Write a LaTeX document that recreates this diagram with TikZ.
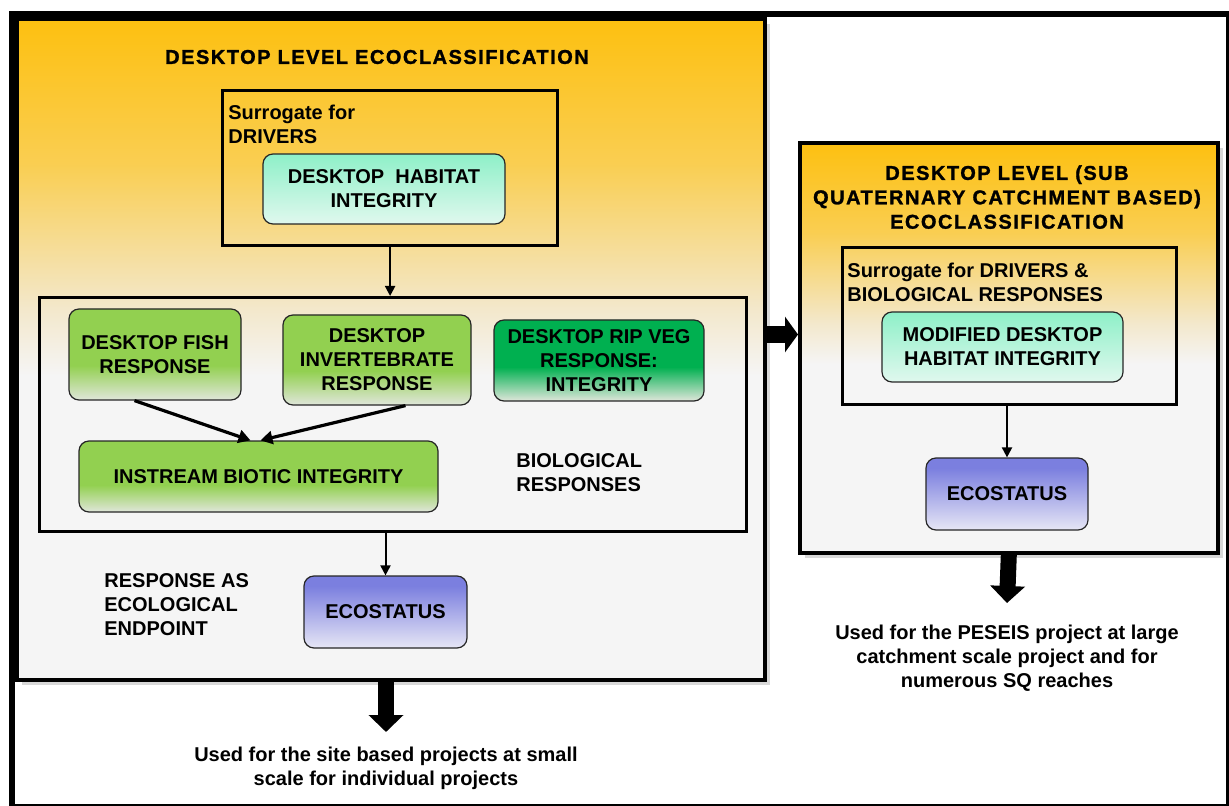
\documentclass[tikz,border=0pt]{standalone}
\usepackage{fontspec}
\setmainfont{Liberation Sans}
\newfontfamily\headfont{Liberation Sans}[FakeBold=1.4, LetterSpace=7.5]
\usepackage{tikz}
\usetikzlibrary{arrows.meta, positioning, shadows}

\definecolor{panelorange}{RGB}{253,192,16}
\definecolor{panelcream}{RGB}{243,232,204}
\definecolor{panelgrey}{RGB}{245,245,245}
\definecolor{leafgreen}{RGB}{146,208,80}
\definecolor{ripgreen}{RGB}{0,176,80}
\definecolor{fadegreen}{RGB}{224,230,218}
\definecolor{mint}{RGB}{142,240,200}
\definecolor{mintpale}{RGB}{224,248,238}
\definecolor{lilac}{RGB}{123,127,223}
\definecolor{lilacpale}{RGB}{230,230,245}

\pgfdeclareverticalshading{panelshade}{100bp}{color(0bp)=(panelgrey); color(48bp)=(panelgrey); color(53bp)=(panelcream); color(64bp)=(panelorange!65!panelcream); color(75bp)=(panelorange); color(100bp)=(panelorange)}
\pgfdeclareverticalshading{leafshade}{100bp}{color(0bp)=(fadegreen); color(25bp)=(fadegreen); color(44bp)=(leafgreen); color(100bp)=(leafgreen)}
\pgfdeclareverticalshading{ripshade}{100bp}{color(0bp)=(fadegreen); color(25bp)=(fadegreen); color(46bp)=(ripgreen); color(100bp)=(ripgreen)}
\pgfdeclareverticalshading{mintshade}{100bp}{color(0bp)=(mintpale); color(25bp)=(mintpale); color(75bp)=(mint); color(100bp)=(mint)}
\pgfdeclareverticalshading{lilacshade}{100bp}{color(0bp)=(lilacpale); color(25bp)=(lilacpale); color(68bp)=(lilac); color(100bp)=(lilac)}

\tikzstyle{outerframe} = [rectangle, draw=black, line width=3pt, anchor=north west, inner sep=0pt]
\tikzstyle{panel} = [rectangle, draw=black, line width=1.8pt, shading=panelshade, anchor=north west, inner sep=0pt, drop shadow={shadow xshift=2.5pt, shadow yshift=-2.5pt, opacity=0.3}]
\tikzstyle{frame} = [rectangle, draw=black, line width=1.6pt, anchor=north west, inner sep=0pt]
\tikzstyle{response} = [rectangle, rounded corners=5pt, draw=black!85, line width=0.6pt, text centered, align=center, inner sep=0pt, shading=leafshade]
\tikzstyle{ripveg} = [response, shading=ripshade]
\tikzstyle{habitat} = [response, shading=mintshade]
\tikzstyle{status} = [response, shading=lilacshade]
\tikzstyle{label} = [inner sep=0pt, align=left, anchor=north west]
\tikzstyle{note} = [inner sep=0pt, align=center, anchor=north]
\tikzstyle{heading} = [inner sep=0pt, align=center, font=\headfont\bfseries\fontsize{10}{12.2}\selectfont]
\tikzstyle{arrow} = [line width=1pt, -{Triangle[length=5pt, width=5pt]}]
\tikzstyle{thickarrow} = [line width=1.6pt, -{Triangle[length=6pt, width=6.5pt]}]
\tikzstyle{bigarrow} = [line width=8pt, -{Triangle[length=8.5pt, width=17pt]}]
\tikzstyle{sidearrow} = [line width=8.5pt, -{Triangle[length=6.5pt, width=17.5pt]}]

\begin{document}
\begin{tikzpicture}[x=0.5pt, y=-0.5pt, every node/.style={font=\bfseries\fontsize{10}{12}\selectfont}]
\useasboundingbox[fill=white] (0,0) rectangle (1229,806);

% Outer frame
\node (outer) [outerframe, minimum width=608.25pt, minimum height=396.25pt] at (9,11) {};

% Left panel
\node (leftpanel) [panel, minimum width=374pt, minimum height=330.5pt] at (15,17) {};
\node (lefttitle) [heading] at (377,57) {DESKTOP LEVEL ECOCLASSIFICATION};

\node (drivers) [frame, minimum width=167.5pt, minimum height=77.5pt] at (221,89) {};
\node (driverslabel) [label] at (228,105) {Surrogate for\\DRIVERS};
\node (habitat) [habitat, minimum width=121pt, minimum height=35pt] at (384,189) {DESKTOP\ \ HABITAT\\INTEGRITY};

% Biological responses
\node (bioframe) [frame, minimum width=353.5pt, minimum height=117pt] at (38,296) {};
\node (fish) [response, minimum width=86pt, minimum height=45.5pt] at (155,354.5) {DESKTOP FISH\\RESPONSE};
\node (invert) [response, minimum width=94pt, minimum height=45pt] at (377,360) {DESKTOP\\INVERTEBRATE\\RESPONSE};
\node (ripveg) [ripveg, minimum width=105pt, minimum height=40.5pt] at (599,360.5) {DESKTOP RIP VEG\\RESPONSE:\\INTEGRITY};
\node (instream) [response, minimum width=179.5pt, minimum height=35.5pt] at (258.5,476.5) {INSTREAM BIOTIC INTEGRITY};
\node (biolabel) [label] at (516,453) {BIOLOGICAL\\RESPONSES};

% Endpoint
\node (ecoleft) [status, minimum width=81.5pt, minimum height=36pt] at (385.5,612) {ECOSTATUS};
\node (endlabel) [label] at (104,573) {RESPONSE AS\\ECOLOGICAL\\ENDPOINT};
\node (leftnote) [note] at (386,747) {Used for the site based projects at small\\scale for individual projects};

% Right panel
\node (rightpanel) [panel, minimum width=209pt, minimum height=205pt] at (798,141) {};
\node (righttitle) [heading, anchor=north] at (1007,165) {DESKTOP LEVEL (SUB\\QUATERNARY CATCHMENT BASED)\\ECOCLASSIFICATION};
\node (sqdrivers) [frame, minimum width=167pt, minimum height=78.5pt] at (841,246) {};
\node (sqlabel) [label] at (847,263) {Surrogate for DRIVERS \&\\BIOLOGICAL RESPONSES};
\node (modified) [habitat, minimum width=120.5pt, minimum height=35pt] at (1002.5,347) {MODIFIED DESKTOP\\HABITAT INTEGRITY};
\node (ecoright) [status, minimum width=81pt, minimum height=36pt] at (1007,494) {ECOSTATUS};
\node (rightnote) [note] at (1007,625) {Used for the PESEIS project at large\\catchment scale project and for\\numerous SQ reaches};
\coordinate (linkstart) at (763,334.5);

% Arrows
\draw [arrow] (drivers.south) -- (drivers.south |- bioframe.north);
\draw [thickarrow] (fish.-114) -- ([xshift=-4pt]instream.north);
\draw [thickarrow] (invert.-58) -- ([xshift=1pt]instream.north);
\draw [arrow] (ecoleft.north |- bioframe.south) -- (ecoleft.north);
\draw [arrow] (ecoright.north |- sqdrivers.south) -- (ecoright.north);
\draw [bigarrow] (leftpanel.south -| leftnote.north) -- ([yshift=7.5pt]leftnote.north);
\draw [bigarrow] (rightpanel.south) -- ([yshift=11pt]rightnote.north);
\draw [sidearrow] (linkstart) -- (linkstart -| rightpanel.west);

\end{tikzpicture}
\end{document}
